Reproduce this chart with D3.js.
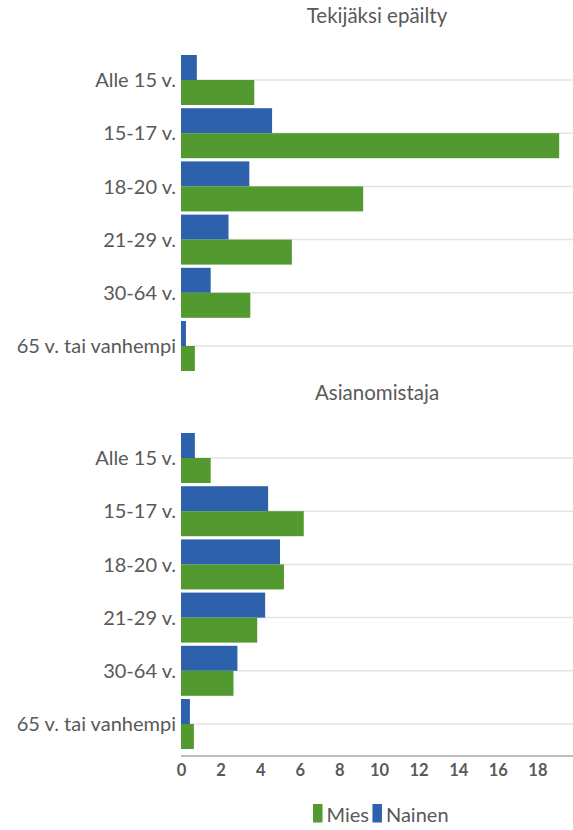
<!DOCTYPE html>
<html>
<head>
<meta charset="utf-8">
<script src="https://cdn.jsdelivr.net/npm/d3@7"></script>
<style>
  body { margin: 0; background: #fff; }
  svg { display: block; font-family: Lato, "Noto Sans", sans-serif; }
</style>
</head>
<body>
<div id="chart"></div>
<script>
const categories = ["Alle 15 v.", "15-17 v.", "18-20 v.", "21-29 v.", "30-64 v.", "65 v. tai vanhempi"];
const seriesNames = ["Nainen", "Mies"];
const legendOrder = ["Mies", "Nainen"];
const panelTitles = ["Tekijäksi epäilty", "Asianomistaja"];

// Tekijäksi epäilty
const suspectMies = [3.7, 19.1, 9.2, 5.6, 3.5, 0.7];
const suspectNainen = [0.8, 4.6, 3.45, 2.4, 1.5, 0.25];
// Asianomistaja
const victimMies = [1.5, 6.2, 5.2, 3.85, 2.65, 0.65];
const victimNainen = [0.7, 4.4, 5.0, 4.25, 2.85, 0.45];

const xTicks = [0, 2, 4, 6, 8, 10, 12, 14, 16, 18];

const colors = { Mies: "#529a30", Nainen: "#2e61ab" };

const width = 573, height = 830;
const svg = d3.select("#chart").append("svg")
  .attr("width", width).attr("height", height);

const x = d3.scaleLinear().domain([0, 20]).range([181, 577]);

const panels = [
  { title: panelTitles[0], mies: suspectMies, nainen: suspectNainen, top: 53.4, titleY: 23 },
  { title: panelTitles[1], mies: victimMies, nainen: victimNainen, top: 431.4, titleY: 400 }
];

panels.forEach(p => {
  const y = d3.scaleBand().domain(categories)
    .range([p.top, p.top + 319.2])
    .paddingInner(0.06).paddingOuter(0.03);
  const sub = d3.scaleBand().domain(seriesNames).range([0, y.bandwidth()]);

  const g = svg.append("g");

  g.append("text")
    .attr("x", (181 + 573) / 2).attr("y", p.titleY)
    .attr("text-anchor", "middle")
    .attr("font-size", 20.5).attr("fill", "#595959")
    .text(p.title);

  // gridlines at category centres
  g.selectAll("line.grid").data(categories).enter().append("line")
    .attr("class", "grid")
    .attr("x1", x(0)).attr("x2", width)
    .attr("y1", d => y(d) + y.bandwidth() / 2)
    .attr("y2", d => y(d) + y.bandwidth() / 2)
    .attr("stroke", "#e3e3e3").attr("stroke-width", 1.5);

  const rows = categories.map((c, i) => ({ cat: c, Mies: p.mies[i], Nainen: p.nainen[i] }));

  const grp = g.selectAll("g.cat").data(rows).enter().append("g")
    .attr("transform", d => `translate(0,${y(d.cat)})`);

  grp.selectAll("rect").data(d => seriesNames.map(s => ({ s, v: d[s] }))).enter()
    .append("rect")
    .attr("x", x(0))
    .attr("y", d => sub(d.s))
    .attr("height", sub.bandwidth())
    .attr("width", d => x(d.v) - x(0))
    .attr("fill", d => colors[d.s]);

  g.selectAll("text.cat").data(categories).enter().append("text")
    .attr("class", "cat")
    .attr("x", 176)
    .attr("y", d => y(d) + y.bandwidth() / 2)
    .attr("dy", "0.36em")
    .attr("text-anchor", "end")
    .attr("font-size", 20).attr("fill", "#595959")
    .text(d => d);
});

// bottom axis
const axis = svg.append("g").attr("transform", "translate(0,756)")
  .call(d3.axisBottom(x).tickValues(xTicks).tickSize(0).tickPadding(8));
axis.select(".domain").attr("d", `M${x(0)},0H${width}`)
  .attr("stroke", "#a6a6a6").attr("stroke-width", 1.5);
axis.selectAll("text")
  .attr("font-family", "Lato, sans-serif")
  .attr("font-size", 16.5).attr("font-weight", "bold").attr("fill", "#595959");

// legend
const legend = svg.append("g").attr("transform", "translate(313,804)");
let lx = 0;
legendOrder.forEach(s => {
  const item = legend.append("g").attr("transform", `translate(${lx},0)`);
  item.append("rect").attr("width", 9.5).attr("height", 18.5).attr("fill", colors[s]);
  const t = item.append("text").attr("x", 13.5).attr("y", 17.5)
    .attr("font-size", 20).attr("fill", "#595959").text(s);
  lx += 13.5 + t.node().getComputedTextLength() + 3.5;
});
</script>
</body>
</html>
